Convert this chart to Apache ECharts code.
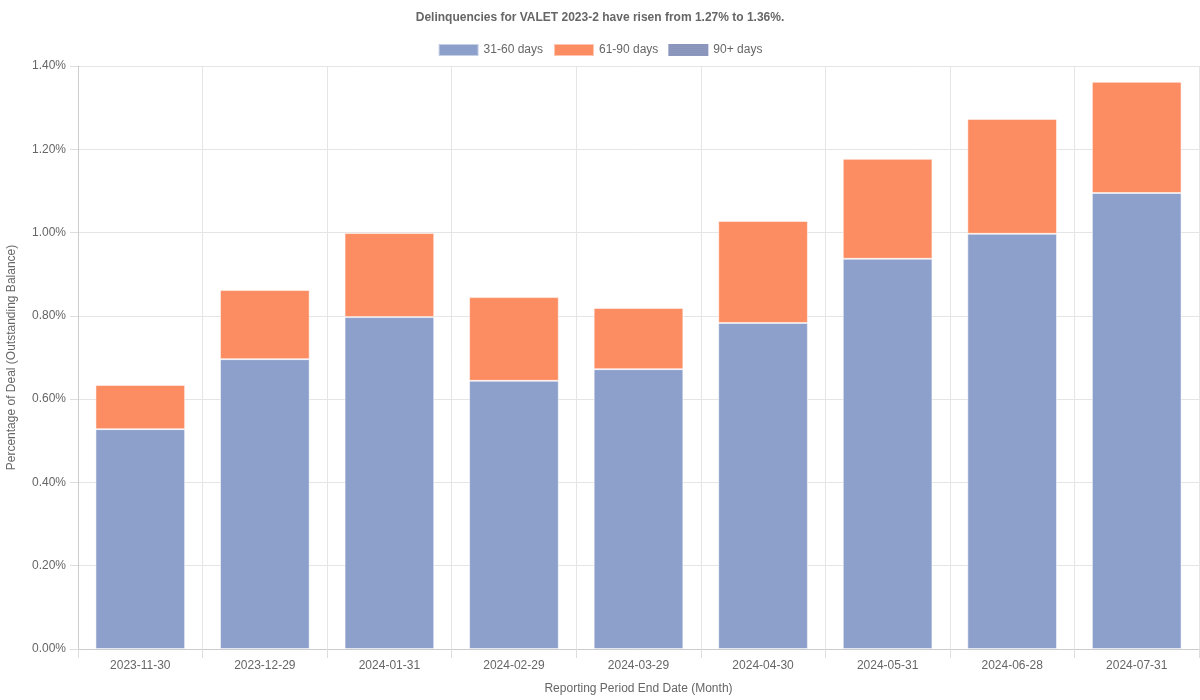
<!DOCTYPE html>
<html>
<head>
<meta charset="utf-8">
<script src="https://cdn.jsdelivr.net/npm/echarts@6/dist/echarts.min.js"></script>
<style>html,body{margin:0;padding:0;background:#fff}#c{width:1200px;height:700px}</style>
</head>
<body>
<div id="c"></div>
<script>
const categories = ['2023-11-30','2023-12-29','2024-01-31','2024-02-29','2024-03-29','2024-04-30','2024-05-31','2024-06-28','2024-07-31'];
const d31_60 = [0.528, 0.696, 0.797, 0.644, 0.672, 0.783, 0.937, 0.997, 1.095];
const d61_90 = [0.106, 0.166, 0.202, 0.201, 0.147, 0.245, 0.240, 0.276, 0.267];
const d90p = [0, 0, 0, 0, 0, 0, 0, 0, 0];
const seriesNames = ['31-60 days', '61-90 days', '90+ days'];

const chart = echarts.init(document.getElementById('c'));
const font = 'Liberation Sans, Arial, sans-serif';
chart.setOption({
  animation: false,
  textStyle: { fontFamily: font },
  title: {
    text: 'Delinquencies for VALET 2023-2 have risen from 1.27% to 1.36%.',
    left: 'center', top: 7,
    textStyle: { fontSize: 12, fontWeight: 'bold', color: '#666', fontFamily: font }
  },
  legend: {
    top: 38, left: 'center', itemWidth: 40, itemHeight: 12, itemGap: 10, icon: 'rect',
    textStyle: { fontSize: 12, color: '#666', fontFamily: font },
    data: seriesNames
  },
  grid: { left: 78, right: 1, top: 66, bottom: 51, containLabel: false, outerBoundsMode: 'none' },
  xAxis: {
    type: 'category', data: categories,
    name: 'Reporting Period End Date (Month)', nameLocation: 'middle', nameGap: 34,
    nameTextStyle: { fontSize: 12, color: '#666' },
    axisLine: { show: true, lineStyle: { color: '#ccc' } },
    axisTick: { show: true, length: 9, lineStyle: { color: '#ddd' } },
    axisLabel: { fontSize: 12, color: '#666', margin: 11 },
    splitLine: { show: true, lineStyle: { color: '#e5e5e5' } }
  },
  yAxis: {
    type: 'value', min: 0, max: 1.4, interval: 0.2,
    name: 'Percentage of Deal (Outstanding Balance)', nameLocation: 'middle', nameGap: 60,
    nameTextStyle: { fontSize: 12, color: '#666' },
    axisLine: { show: true, lineStyle: { color: '#ccc' } },
    axisTick: { show: true, length: 8, lineStyle: { color: '#ddd' } },
    axisLabel: { fontSize: 12, color: '#666', margin: 12, formatter: v => v.toFixed(2) + '%' },
    splitLine: { show: true, lineStyle: { color: '#e5e5e5' } }
  },
  series: [
    { name: seriesNames[0], type: 'bar', stack: 'a', data: d31_60, barCategoryGap: '28%',
      itemStyle: { color: '#8da0cb', borderColor: 'rgba(255,255,255,0.5)', borderWidth: 1 } },
    { name: seriesNames[1], type: 'bar', stack: 'a', data: d61_90,
      itemStyle: { color: '#fc8d62', borderColor: 'rgba(255,255,255,0.5)', borderWidth: 1 } },
    { name: seriesNames[2], type: 'bar', stack: 'a', data: d90p,
      itemStyle: { color: '#8d98c0', decal: { symbol: 'rect', symbolSize: 0.5, dashArrayX: [1, 0], dashArrayY: [1, 1], color: 'rgba(120,120,140,0.5)' } } }
  ]
});
</script>
</body>
</html>
